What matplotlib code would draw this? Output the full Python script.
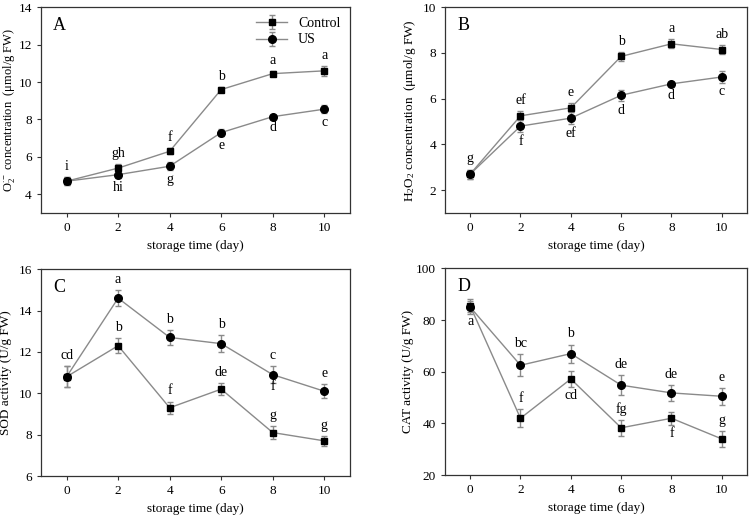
import matplotlib
matplotlib.use('Agg')
import matplotlib.pyplot as plt

plt.rcParams['font.family'] = ['Liberation Serif', 'DejaVu Serif']
plt.rcParams['mathtext.fontset'] = 'custom'
plt.rcParams['mathtext.rm'] = 'Liberation Serif'
plt.rcParams['mathtext.it'] = 'Liberation Serif:italic'

days = [0, 2, 4, 6, 8, 10]

# A: superoxide anion
a_ctrl = [4.7, 5.4, 6.3, 9.6, 10.45, 10.6]
a_ctrl_err = [0.2, 0.2, 0.15, 0.15, 0.15, 0.25]
a_us = [4.7, 5.05, 5.5, 7.3, 8.15, 8.55]
a_us_err = [0.2, 0.2, 0.2, 0.2, 0.1, 0.2]
a_ctrl_let = ['i', 'gh', 'f', 'b', 'a', 'a']
a_us_let = ['', 'hi', 'g', 'e', 'd', 'c']

# B: H2O2
b_ctrl = [2.7, 5.25, 5.6, 7.85, 8.4, 8.15]
b_ctrl_err = [0.2, 0.2, 0.2, 0.2, 0.2, 0.2]
b_us = [2.7, 4.8, 5.15, 6.15, 6.65, 6.95]
b_us_err = [0.2, 0.25, 0.25, 0.25, 0.1, 0.25]
b_ctrl_let = ['g', 'ef', 'e', 'b', 'a', 'ab']
b_us_let = ['', 'f', 'ef', 'd', 'd', 'c']

# C: SOD
c_ctrl = [10.8, 12.3, 9.3, 10.2, 8.1, 7.7]
c_ctrl_err = [0.5, 0.35, 0.3, 0.3, 0.3, 0.25]
c_us = [10.8, 14.6, 12.7, 12.4, 10.9, 10.1]
c_us_err = [0.5, 0.4, 0.35, 0.4, 0.4, 0.35]
c_ctrl_let = ['', 'b', 'f', 'de', 'g', 'g']
c_us_let = ['cd', 'a', 'b', 'b', 'c', 'e']

# D: CAT
d_ctrl = [85.5, 42, 57.2, 38.3, 42, 34]
d_ctrl_err = [2.5, 3.5, 3, 3, 2.5, 3]
d_us = [85, 62.5, 67, 54.8, 51.8, 50.5]
d_us_err = [2.5, 4.2, 3.5, 3.8, 3, 3.2]
d_ctrl_let = ['a', 'f', 'cd', 'fg', 'f', 'g']
d_us_let = ['', 'bc', 'b', 'de', 'de', 'e']

line_c = '#8a8a8a'


def draw(ax, ctrl, ctrl_err, us, us_err, ctrl_let, us_let, ctrl_side, us_side):
    ax.errorbar(days, ctrl, yerr=ctrl_err, color=line_c, lw=1, marker='s', ms=5,
                mfc='black', mec='black', ecolor=line_c, elinewidth=1, capsize=2,
                label='Control', zorder=3)
    ax.errorbar(days, us, yerr=us_err, color=line_c, lw=1, marker='o', ms=5.5,
                mfc='black', mec='black', ecolor=line_c, elinewidth=1, capsize=2,
                label='US', zorder=3)
    for vals, errs, lets, sides in [(ctrl, ctrl_err, ctrl_let, ctrl_side),
                                    (us, us_err, us_let, us_side)]:
        for x, v, e, t, s in zip(days, vals, errs, lets, sides):
            if not t:
                continue
            if s == 'u':
                ax.annotate(t, (x, v + e), xytext=(0, 3), textcoords='offset points',
                            ha='center', va='bottom', fontsize=10)
            else:
                ax.annotate(t, (x, v - e), xytext=(0, -2), textcoords='offset points',
                            ha='center', va='top', fontsize=10)


def style(ax, ylim, yticks, ylabel, letter, lx):
    ax.set_xlim(-1, 11)
    ax.set_ylim(*ylim)
    ax.set_xticks(days)
    ax.set_yticks(yticks)
    ax.tick_params(direction='out', length=3, width=0.8, labelsize=9.5,
                   top=False, right=False, color='#333333')
    for sp in ax.spines.values():
        sp.set_linewidth(0.9)
        sp.set_color('#333333')
    ax.set_xlabel('storage time (day)', fontsize=9.5, labelpad=4)
    ax.set_ylabel(ylabel, fontsize=9.5)
    ax.yaxis.set_label_coords(lx, 0.5)
    ax.text(0.04, 0.91, letter, transform=ax.transAxes, fontsize=13, va='center')


fig = plt.figure(figsize=(7.56, 5.17), dpi=100)
axA = fig.add_axes([0.054, 0.588, 0.409, 0.398])
axB = fig.add_axes([0.5886, 0.588, 0.3995, 0.398])
axC = fig.add_axes([0.054, 0.0793, 0.409, 0.400])
axD = fig.add_axes([0.5886, 0.081, 0.3995, 0.400])

draw(axA, a_ctrl, a_ctrl_err, a_us, a_us_err, a_ctrl_let, a_us_let,
     'uuuuuu', 'dddddd')
style(axA, (3, 14), [4, 6, 8, 10, 12, 14],
      r'O$_2^{\cdot-}$ concentration  (μmol/g FW)', 'A', -0.078)
axA.yaxis.label.set_fontsize(9)
leg = axA.legend(loc='upper right', frameon=False, fontsize=10, handlelength=2.2,
                 borderaxespad=0.3, labelspacing=0.25)

draw(axB, b_ctrl, b_ctrl_err, b_us, b_us_err, b_ctrl_let, b_us_let,
     'uuuuuu', 'dddddd')
style(axB, (1, 10), [2, 4, 6, 8, 10],
      r'H$_2$O$_2$ concentration  (μmol/g FW)', 'B', -0.089)

draw(axC, c_ctrl, c_ctrl_err, c_us, c_us_err, c_ctrl_let, c_us_let,
     'uuuuuu', 'uuuuuu')
# extra letter under the US point at day 8
axC.annotate('f', (days[4], c_us[4] - c_us_err[4]), xytext=(0, 2),
             textcoords='offset points', ha='center', va='top', fontsize=10)
style(axC, (6, 16), [6, 8, 10, 12, 14, 16], 'SOD activity (U/g FW)', 'C', -0.094)

draw(axD, d_ctrl, d_ctrl_err, d_us, d_us_err, d_ctrl_let, d_us_let,
     'dududu', 'uuuuuu')
style(axD, (20, 100), [20, 40, 60, 80, 100], 'CAT activity (U/g FW)', 'D', -0.103)

fig.savefig('out.png', dpi=100)
